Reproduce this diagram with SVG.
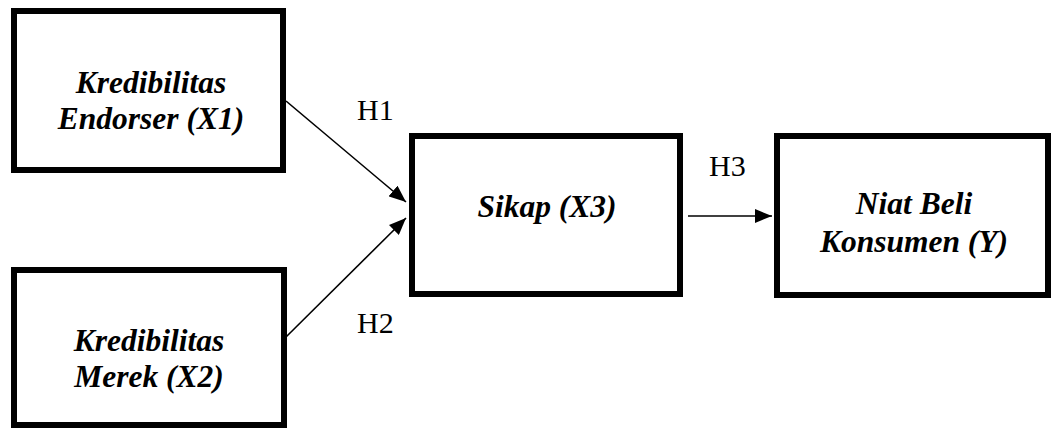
<svg xmlns="http://www.w3.org/2000/svg" width="1051" height="428" viewBox="0 0 1051 428">
<defs>
<style>
.box{fill:#fff;stroke:#000;stroke-width:6}
.nt{font-weight:bold;font-style:italic;font-size:31.5px;text-anchor:middle;fill:#000}
.lb{font-size:30px;fill:#000}
.cn{stroke:#000;stroke-width:1.6;fill:none}
</style>
<marker id="ah" markerUnits="userSpaceOnUse" markerWidth="18" markerHeight="14" refX="17" refY="7" orient="auto">
<path d="M0,0 L17,7 L0,14 z" fill="#000"/>
</marker>
</defs>
<rect width="1051" height="428" fill="#fff"/>
<g font-family="Liberation Serif, DejaVu Serif, serif">
<g id="connectors">
<line class="cn" x1="286" y1="101" x2="406" y2="202" marker-end="url(#ah)"/>
<line class="cn" x1="286" y1="337" x2="406" y2="218" marker-end="url(#ah)"/>
<line class="cn" x1="688" y1="216" x2="772" y2="216" marker-end="url(#ah)"/>
<text class="lb" x="357" y="120">H1</text>
<text class="lb" x="357" y="333">H2</text>
<text class="lb" x="709" y="176">H3</text>
</g>
<g id="x1">
<rect class="box" x="14" y="11" width="269" height="159"/>
<text class="nt" x="151" y="93">Kredibilitas</text>
<text class="nt" x="151" y="129">Endorser (X1)</text>
</g>
<g id="x2">
<rect class="box" x="14" y="270" width="270" height="155"/>
<text class="nt" x="149" y="351">Kredibilitas</text>
<text class="nt" x="149" y="387">Merek (X2)</text>
</g>
<g id="x3">
<rect class="box" x="412" y="136" width="268" height="158"/>
<text class="nt" x="547" y="217">Sikap (X3)</text>
</g>
<g id="y">
<rect class="box" x="777" y="136" width="271" height="159"/>
<text class="nt" x="914" y="214">Niat Beli</text>
<text class="nt" x="914" y="252">Konsumen (Y)</text>
</g>
</g>
</svg>
